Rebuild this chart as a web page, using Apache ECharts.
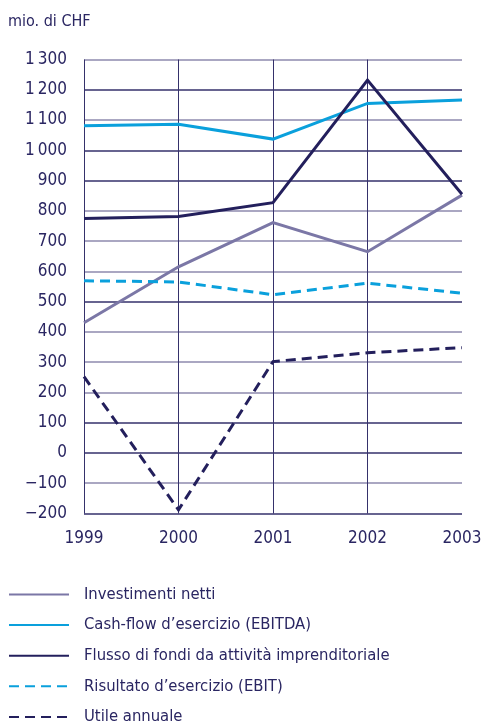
<!DOCTYPE html>
<html>
<head>
<meta charset="utf-8">
<script src="https://cdn.jsdelivr.net/npm/echarts@6/dist/echarts.min.js"></script>
<style>
  html, body { margin: 0; padding: 0; background: #ffffff; }
  #chart { width: 485px; height: 725px; }
</style>
</head>
<body>
<div id="chart"></div>
<script>
// Years on the horizontal axis
const years = ['1999', '2000', '2001', '2002', '2003'];

// Series values, millions of CHF
const investimentiNetti = [430, 615, 761, 665, 852];
const cashFlowEbitda = [1081, 1086, 1037, 1155, 1166];
const flussoFondi = [775, 781, 827, 1232, 855];
const risultatoEbit = [569, 565, 523, 561, 528];
const utileAnnuale = [252, -188, 302, 331, 348];

// Series names as shown in the legend
const seriesNames = [
  'Investimenti netti',
  'Cash-flow d\u2019esercizio (EBITDA)',
  'Flusso di fondi da attivit\u00e0 imprenditoriale',
  'Risultato d\u2019esercizio (EBIT)',
  'Utile annuale'
];

// Value axis range
const yMin = -200;
const yMax = 1300;
const yStep = 100;

const FONT = '"DejaVu Sans Condensed", "Liberation Sans Narrow", "Liberation Sans", sans-serif';
const NAVY = '#231f5c';
const LILAC = '#7b77a6';
const BLUE = '#0aa0dc';
const TEXT = '#2a2662';
const GRID_DARK = '#35316b';
const GRID_LIGHT = '#8e8aae';

// Horizontal rules from the bottom (-200) up to the top (1300)
const hLineColors = [
  GRID_DARK, GRID_LIGHT, GRID_DARK, GRID_DARK, GRID_LIGHT, GRID_LIGHT, GRID_LIGHT, GRID_DARK,
  GRID_LIGHT, GRID_LIGHT, GRID_LIGHT, GRID_DARK, GRID_DARK, GRID_LIGHT, GRID_DARK, GRID_LIGHT
];

function fmtY(v) {
  const neg = v < 0;
  const a = Math.abs(v);
  const s = a >= 1000 ? Math.floor(a / 1000) + '\u2009' + String(a % 1000).padStart(3, '0') : String(a);
  return (neg ? '\u2212' : '') + s;
}

const chart = echarts.init(document.getElementById('chart'), null, { renderer: 'canvas' });

function lineSeries(name, data, color, dashed) {
  return {
    name: name,
    type: 'line',
    data: data,
    symbol: 'none',
    smooth: false,
    lineStyle: {
      color: color,
      width: 3,
      type: dashed ? [10, 6] : 'solid',
      join: 'miter',
      cap: 'butt'
    },
    itemStyle: { color: color },
    emphasis: { disabled: true },
    z: 3
  };
}

chart.setOption({
  animation: false,
  backgroundColor: '#ffffff',
  textStyle: { fontFamily: FONT },
  title: {
    text: 'mio. di CHF',
    left: 3,
    top: 9,
    textStyle: { fontFamily: FONT, fontSize: 16, fontWeight: 'normal', color: TEXT }
  },
  grid: { left: 84, right: 23, top: 59.5, bottom: 211.5, containLabel: false },
  xAxis: {
    type: 'category',
    data: years,
    boundaryGap: false,
    axisLine: { show: false },
    axisTick: { show: false },
    axisLabel: { color: TEXT, fontSize: 17, fontFamily: FONT, margin: 17 },
    splitLine: {
      show: true,
      interval: function (idx) { return idx < years.length - 1; },
      lineStyle: { color: GRID_DARK, width: 1 }
    }
  },
  yAxis: {
    type: 'value',
    min: yMin,
    max: yMax,
    interval: yStep,
    axisLine: { show: false },
    axisTick: { show: false },
    axisLabel: { color: TEXT, fontSize: 17, fontFamily: FONT, margin: 17, formatter: fmtY },
    splitLine: { show: true, lineStyle: { color: hLineColors, width: 1.5 } }
  },
  legend: {
    show: true,
    orient: 'vertical',
    left: 8,
    top: 586,
    height: 200,
    padding: 0,
    itemWidth: 60,
    itemHeight: 12,
    itemGap: 13.6,
    selectedMode: false,
    itemStyle: { color: 'rgba(0,0,0,0)', borderColor: 'rgba(0,0,0,0)', borderWidth: 0 },
    textStyle: { color: TEXT, fontSize: 16.5, fontFamily: FONT, padding: [0, 0, 0, 10] },
    data: seriesNames
  },
  series: [
    lineSeries(seriesNames[0], investimentiNetti, LILAC, false),
    lineSeries(seriesNames[1], cashFlowEbitda, BLUE, false),
    lineSeries(seriesNames[2], flussoFondi, NAVY, false),
    lineSeries(seriesNames[3], risultatoEbit, BLUE, true),
    lineSeries(seriesNames[4], utileAnnuale, NAVY, true)
  ]
});
</script>
</body>
</html>
